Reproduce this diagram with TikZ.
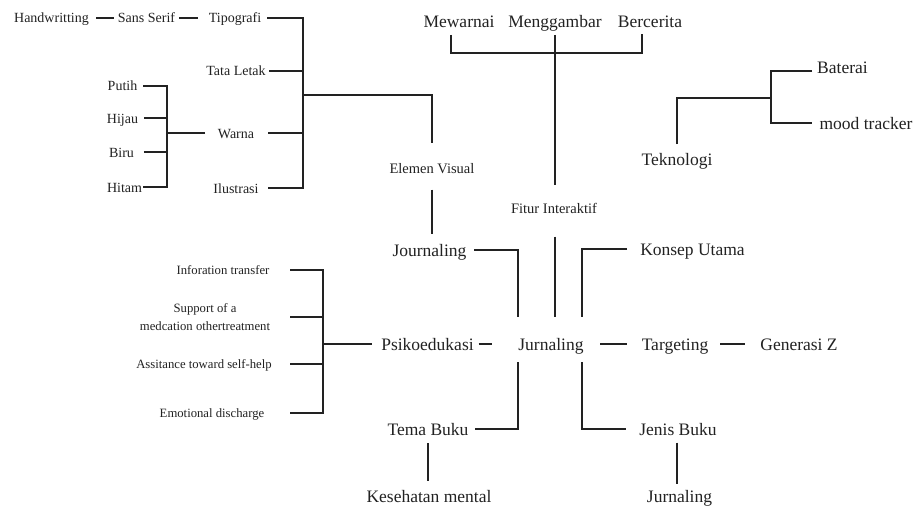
\documentclass[tikz,border=0pt]{standalone}
\usepackage{fontspec}
\setmainfont{Liberation Serif}
\usetikzlibrary{calc}
\definecolor{ink}{HTML}{222222}
\begin{document}
\begin{tikzpicture}[x=1pt,y=-1pt,
  base/.style={text=ink, inner sep=0pt, outer sep=0pt},
  big/.style={base, font=\fontsize{17.5}{21}\selectfont, text height=13pt, text depth=1pt},
  mid/.style={base, font=\fontsize{14}{17}\selectfont, text height=10.5pt, text depth=0.5pt},
  sml0/.style={base, font=\fontsize{12.7}{18}\selectfont},
  sml/.style={sml0, text height=9.5pt, text depth=0.5pt},
  ln/.style={draw=ink, line width=1.5pt},
  thinln/.style={draw=ink, line width=1.1pt},
  heavy/.style={draw=ink, line width=2.3pt}]
\fill[white] (0,0) rectangle (921,511);
\useasboundingbox (0,0) rectangle (921,511);

% ---- top-left: visual elements
\node[mid,minimum width=77pt] (hw) at (51.5,18) {Handwritting};
\node[mid,minimum width=57pt] (ss) at (146.5,18) {Sans Serif};
\node[mid,minimum width=54pt] (tp) at (235,18) {Tipografi};
\node[mid,minimum width=62pt] (tl) at (236,71) {Tata Letak};
\node[mid,minimum width=38pt] (wa) at (236,133) {Warna};
\node[mid,minimum width=48pt] (il) at (236,188) {Ilustrasi};
\node[mid,minimum width=29pt] (pu) at (122.5,86) {Putih};
\node[mid,minimum width=29pt] (hi) at (122.5,118) {Hijau};
\node[mid,minimum width=23pt] (bi) at (121.5,152) {Biru};
\node[mid,minimum width=33pt] (ht) at (124.5,187) {Hitam};
\node[mid,font=\fontsize{14.5}{17}\selectfont,minimum width=85pt] (ev) at (432,168) {Elemen Visual};
\node[mid,font=\fontsize{14.5}{17}\selectfont,minimum width=92pt] (fi) at (554,208) {Fitur Interaktif};

% ---- big labels
\node[big,minimum width=72pt] (mw) at (459,22) {Mewarnai};
\node[big,minimum width=95pt] (mg) at (555,22) {Menggambar};
\node[big,minimum width=68pt] (bc) at (650,22) {Bercerita};
\node[big,minimum width=71pt] (tk) at (677,159) {Teknologi};
\node[big,minimum width=51pt] (bt) at (842.5,68) {Baterai};
\node[big,minimum width=98pt] (mt) at (866,123) {mood tracker};
\node[big,minimum width=75pt] (ju) at (429.5,250) {Journaling};
\node[big,minimum width=105pt] (ku) at (692.5,249) {Konsep Utama};
\node[big,minimum width=66pt] (jn) at (551,344) {Jurnaling};
\node[big,minimum width=70pt] (tg) at (675,344) {Targeting};
\node[big,minimum width=76pt] (gz) at (799,344) {Generasi Z};
\node[big,minimum width=91pt] (ps) at (427.5,344) {Psikoedukasi};
\node[big,minimum width=81pt] (tb) at (428,429) {Tema Buku};
\node[big,minimum width=77pt] (jb) at (678,429) {Jenis Buku};
\node[big,minimum width=130pt] (km) at (429,496) {Kesehatan mental};
\node[big,minimum width=65pt] (jl) at (679.5,496) {Jurnaling};

% ---- small labels (psychoeducation)
\node[sml,minimum width=100pt] (it) at (223,270) {Inforation transfer};
\node[sml0,minimum width=136pt,align=center] (so) at (205,317) {Support of a\\medcation othertreatment};
\node[sml,minimum width=142pt] (as) at (204,364) {Assitance toward self-help};
\node[sml,minimum width=110pt] (ed) at (212,413) {Emotional discharge};

% ---- connectors: top-left
\draw[ln] ($(hw.east)+(6,0)$) -- ($(ss.west)+(-4,0)$);
\draw[ln] ($(ss.east)+(4,0)$) -- ($(tp.west)+(-10,0)$);
\coordinate (vtl) at (303,188);
\draw[ln] ($(tp.east)+(5,0)$) -| (vtl) -- ($(il.east)+(8,0)$);
\draw[thinln] ($(tl.east)+(2,0)$) -- (tl.east -| vtl);
\draw[ln] ($(wa.east)+(13,0)$) -- (wa.east -| vtl);
\coordinate (evj) at (303,95);
\draw[ln] (evj) -| ($(ev.north)+(0,-20)$);
\draw[ln] ($(ev.south)+(0,16)$) -- ($(ev.south |- ju.north)+(0,-9)$);

% colours bracket
\coordinate (cv) at (167,133);
\draw[ln] ($(pu.east)+(6,0)$) -| (cv |- ht.east) -- ($(ht.east)+(1,0)$);
\draw[ln] ($(hi.east)+(6,0)$) -- (hi.east -| cv);
\draw[ln] ($(bi.east)+(10,0)$) -- (bi.east -| cv);
\draw[ln] ($(wa.west)+(-12,0)$) -- (cv);

% ---- top centre: interactive features
\draw[ln] ($(mw.south)+(-8,6)$) |- ($(bc.south)+(-8,24)$) -- ($(bc.south)+(-8,5)$);
\draw[ln] ($(mg.south)+(0,6)$) -- ($(mg.south |- fi.north)+(0,-17.5)$);
\draw[ln] ($(fi.south)+(1,23)$) -- ($(fi.south |- jn.north)+(1,-20)$);

% ---- technology
\coordinate (tj) at (771,98);
\draw[ln] ($(tk.north)+(0,-8)$) |- (tj);
\draw[ln] ($(bt.west)+(-5,3)$) -| (tj |- mt.west) -- ($(mt.west)+(-5,0)$);

% ---- centre
\draw[ln] ($(ju.east)+(7,0)$) -| ($(jn.north west)+(0,-20)$);
\draw[ln] ($(ku.west)+(-13,0)$) -| ($(jn.north east)+(-2,-20)$);
\draw[ln] ($(jn.east)+(16,0)$) -- ($(tg.west)+(-13,0)$);
\draw[ln] ($(tg.east)+(10,0)$) -- ($(gz.west)+(-15,0)$);
\coordinate (pj) at (323,344);
\draw[thinln] (pj) -- ($(ps.west)+(-9,0)$);
\coordinate (psd) at (492,344);
\draw[thinln] ($(ps.east)+(5,0)$) -- (psd);

% ---- psychoeducation bracket
\draw[heavy] ($(it.east)+(17,0)$) -| (pj |- ed.east) -- ($(ed.east)+(23,0)$);
\draw[heavy] ($(so.east)+(17,0)$) -- (so.east -| pj);
\draw[heavy] ($(as.east)+(15,0)$) -- (as.east -| pj);

% ---- bottom
\draw[ln] ($(jn.south west)+(0,11)$) |- ($(tb.east)+(6,0)$);
\draw[ln] ($(jn.south east)+(-2,11)$) |- ($(jb.west)+(-13,0)$);
\draw[ln] ($(tb.south)+(0,7)$) -- ($(tb.south |- km.north)+(0,-8)$);
\draw[ln] ($(jb.south)+(-1,6.5)$) -- ($(jb.south |- jl.north)+(-1,-5)$);
\end{tikzpicture}
\end{document}
